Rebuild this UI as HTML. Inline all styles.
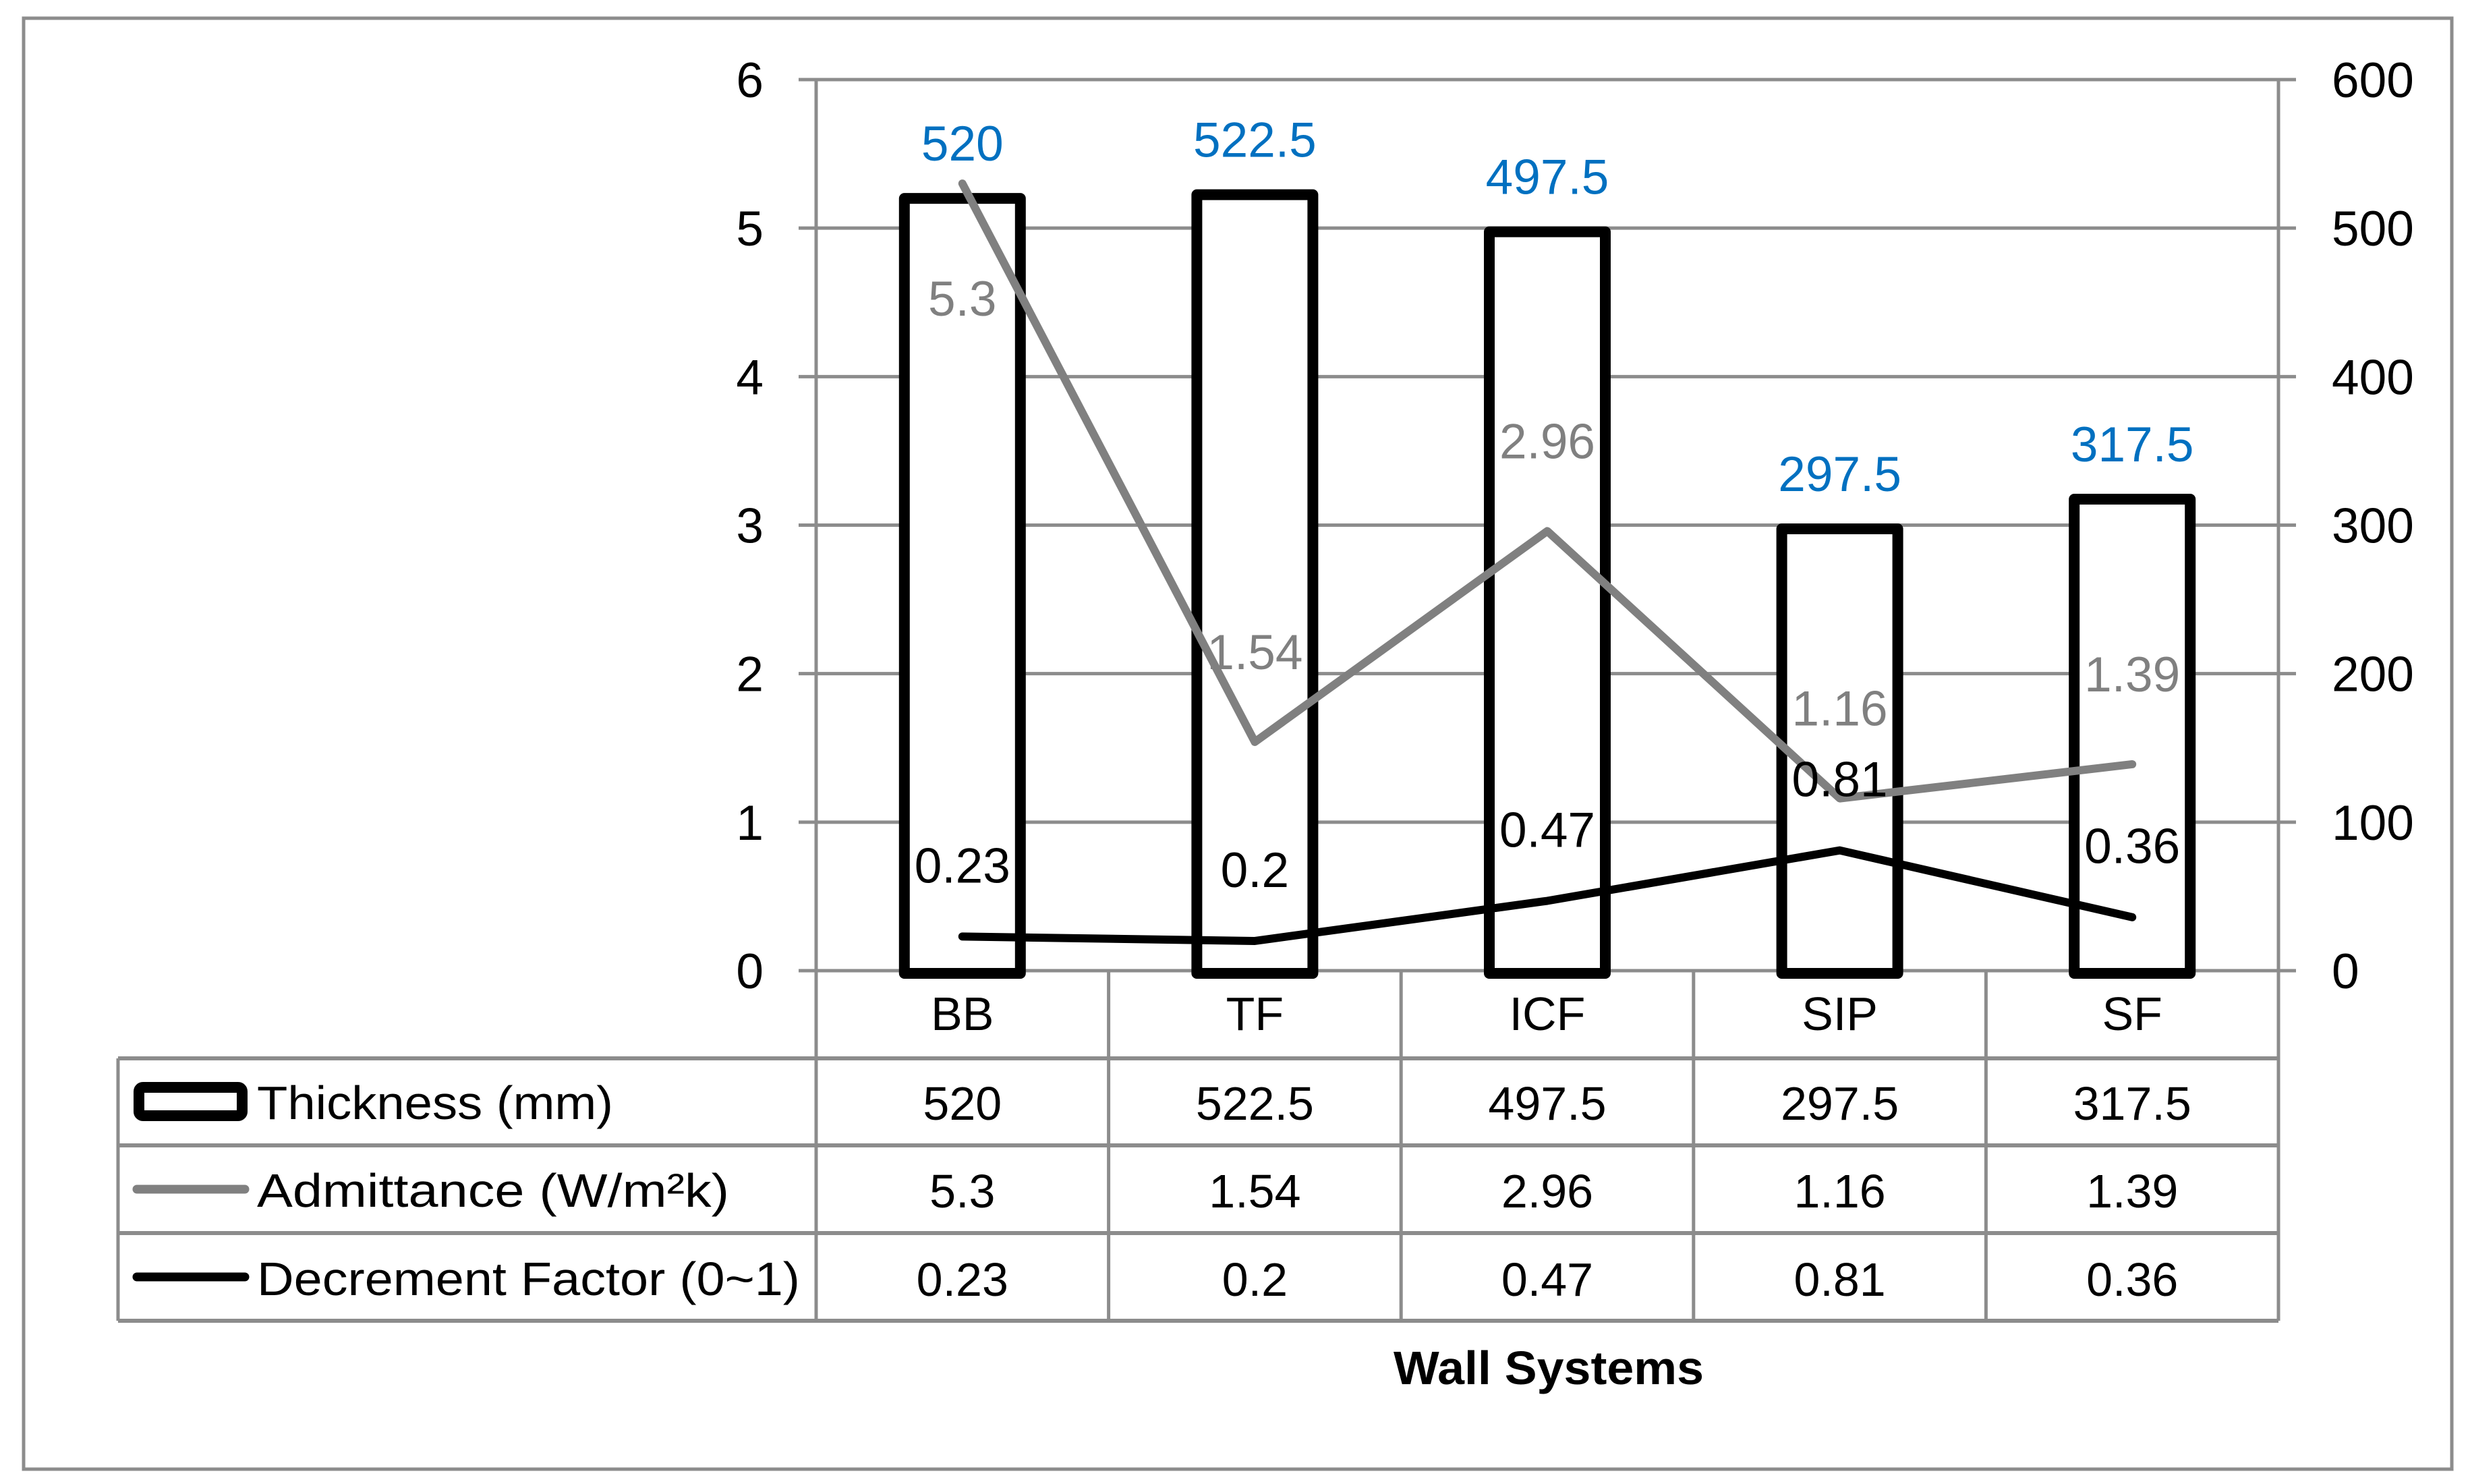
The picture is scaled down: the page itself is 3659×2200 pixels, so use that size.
<!DOCTYPE html>
<html><head><meta charset="utf-8"><style>
html,body{margin:0;padding:0;background:#fff}
svg{display:block}
text{font-family:"Liberation Sans",sans-serif}
</style></head><body>
<svg id="chart" width="3659" height="2200" viewBox="0 0 3659 2200" xmlns="http://www.w3.org/2000/svg">
<rect x="35" y="27" width="3600" height="2151" fill="#fff" stroke="#8c8c8c" stroke-width="5"/>
<g id="grid"></g><g id="bars"></g><g id="lines"></g><g id="labels"></g><g id="table"></g>
<text x="2296" y="2052" text-anchor="middle" font-size="70" font-weight="bold" textLength="460" lengthAdjust="spacingAndGlyphs">Wall Systems</text>
</svg>
<script>
const categories = ["BB","TF","ICF","SIP","SF"];
const thickness = [520,522.5,497.5,297.5,317.5];
const admittance = [5.3,1.54,2.96,1.16,1.39];
const decrement = [0.23,0.2,0.47,0.81,0.36];
const thicknessLabels = ["520","522.5","497.5","297.5","317.5"];
const admittanceLabels = ["5.3","1.54","2.96","1.16","1.39"];
const decrementLabels = ["0.23","0.2","0.47","0.81","0.36"];
const leftTicks = [0,1,2,3,4,5,6];
const rightTicks = [0,100,200,300,400,500,600];

const NS="http://www.w3.org/2000/svg";
const L=1210, R=3378, Y0=1439, Y6=118;
const W=(R-L)/categories.length;
const yL=v=>Y0-(Y0-Y6)*v/6;
const yR=v=>Y0-(Y0-Y6)*v/600;
const xC=i=>L+W*(i+0.5);
function mk(tag,attrs,parent,txt){const e=document.createElementNS(NS,tag);for(const k in attrs)e.setAttribute(k,attrs[k]);if(txt!==undefined)e.textContent=txt;document.getElementById(parent).appendChild(e);return e;}
const G="#8c8c8c";
leftTicks.forEach((t,i)=>{
  const y=yL(t);
  const gl=mk('line',{x1:L-26,x2:R+26,y1:y,y2:y,stroke:G,'stroke-width':5},'grid');
  
  
  const lt=mk('text',{x:1132,y:y+26,'text-anchor':'end','font-size':73},'grid',String(t));
  
  
});
rightTicks.forEach(t=>{
  const rt=mk('text',{x:3457,y:yR(t)+26,'font-size':73},'grid',String(t));
  
  
});
const la=mk('line',{x1:L,x2:L,y1:Y6,y2:1958,stroke:G,'stroke-width':5},'grid');


const ra=mk('line',{x1:R,x2:R,y1:Y6,y2:1958,stroke:G,'stroke-width':5},'grid');


const rowsY=[1569,1698,1828,1958];
rowsY.forEach(y=>{
  const hl=mk('line',{x1:175,x2:R,y1:y,y2:y,stroke:G,'stroke-width':6},'table');
  
  
});
const tl=mk('line',{x1:175,x2:175,y1:1569,y2:1958,stroke:G,'stroke-width':5},'table');


for(let i=1;i<categories.length;i++){
  const vl=mk('line',{x1:L+W*i,x2:L+W*i,y1:Y0,y2:1958,stroke:G,'stroke-width':5},'table');
  
  
}
const bw=172;
thickness.forEach((v,i)=>{
  const y=yR(v);
  const b=mk('rect',{x:xC(i)-bw/2,y:y,width:bw,height:Y0-y+4,fill:'#fff',stroke:'#000','stroke-width':16,'stroke-linejoin':'round'},'bars');
  
  
  const t=mk('text',{x:xC(i),y:y-56,'text-anchor':'middle','font-size':73,fill:'#0070c0'},'labels',thicknessLabels[i]);
  
  
});
const ap=admittance.map((v,i)=>xC(i)+','+yL(v)).join(' ');
const al=mk('polyline',{points:ap,fill:'none',stroke:'#808080','stroke-width':12,'stroke-linecap':'round','stroke-linejoin':'round'},'lines');


const dp=decrement.map((v,i)=>xC(i)+','+yL(v)).join(' ');
const dl=mk('polyline',{points:dp,fill:'none',stroke:'#000','stroke-width':12,'stroke-linecap':'round','stroke-linejoin':'round'},'lines');


admittance.forEach((v,i)=>{
  const off = i===0 ? 196 : -108;
  const t=mk('text',{x:xC(i),y:yL(v)+off,'text-anchor':'middle','font-size':73,fill:'#808080'},'labels',admittanceLabels[i]);
  
  
});
decrement.forEach((v,i)=>{
  const t=mk('text',{x:xC(i),y:yL(v)-80,'text-anchor':'middle','font-size':73,fill:'#000'},'labels',decrementLabels[i]);
  
  
});
categories.forEach((c,i)=>{
  const t=mk('text',{x:xC(i),y:1527,'text-anchor':'middle','font-size':70},'table',c);
  
  
  const a=mk('text',{x:xC(i),y:1660,'text-anchor':'middle','font-size':70},'table',thicknessLabels[i]);
  
  
  const b=mk('text',{x:xC(i),y:1790,'text-anchor':'middle','font-size':70},'table',admittanceLabels[i]);
  
  
  const d=mk('text',{x:xC(i),y:1921,'text-anchor':'middle','font-size':70},'table',decrementLabels[i]);
  
  
});
const k1=mk('rect',{x:206,y:1612,width:153,height:42,rx:6,fill:'#fff',stroke:'#000','stroke-width':16},'table');


const k2=mk('line',{x1:203,x2:363,y1:1763,y2:1763,stroke:'#808080','stroke-width':13,'stroke-linecap':'round'},'table');


const k3=mk('line',{x1:203,x2:363,y1:1893,y2:1893,stroke:'#000','stroke-width':13,'stroke-linecap':'round'},'table');


const n1=mk('text',{x:381,y:1659,'font-size':70,textLength:528,lengthAdjust:'spacingAndGlyphs'},'table','Thickness (mm)');


const n2=mk('text',{x:381,y:1789,'font-size':70,textLength:700,lengthAdjust:'spacingAndGlyphs'},'table','Admittance (W/m²k)');


const n3=mk('text',{x:381,y:1920,'font-size':70,textLength:805,lengthAdjust:'spacingAndGlyphs'},'table','Decrement Factor (0~1)');


</script>
</body></html>
